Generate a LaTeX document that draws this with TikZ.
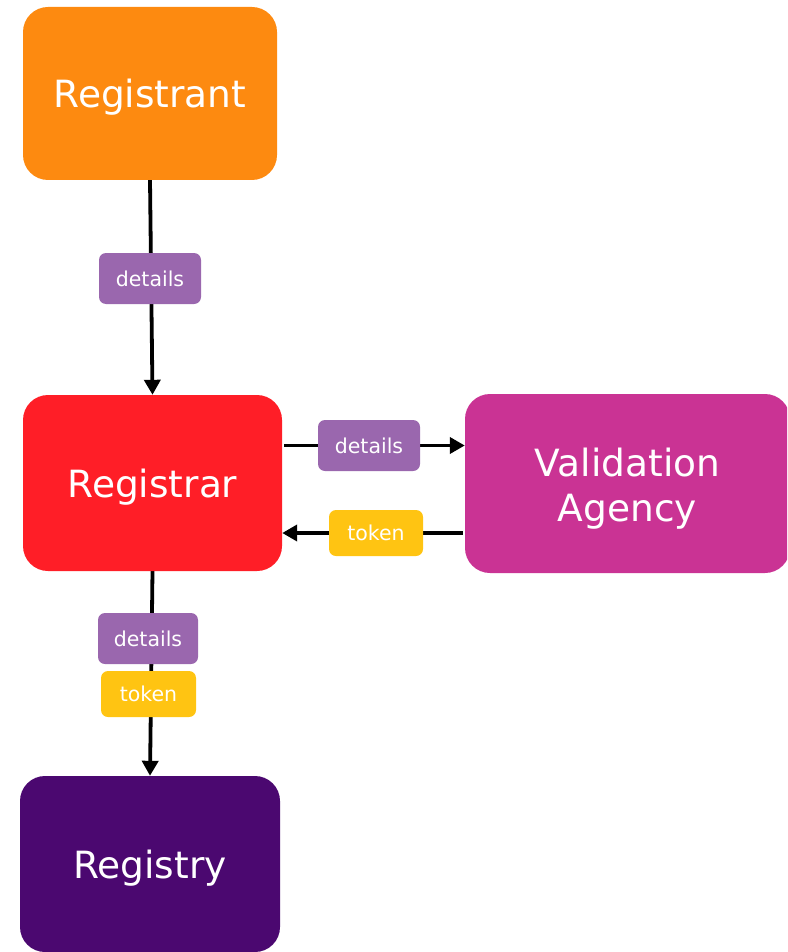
\documentclass[tikz,border=0pt]{standalone}
\usepackage{fontspec}
\setmainfont{DejaVu Sans}
\usetikzlibrary{arrows.meta}
\pgfdeclarelayer{bg}
\pgfsetlayers{bg,main}
\definecolor{cOrange}{HTML}{FD8A10}
\definecolor{cRed}{HTML}{FF1E27}
\definecolor{cMagenta}{HTML}{CA3394}
\definecolor{cDark}{HTML}{4B0870}
\definecolor{cLilac}{HTML}{9A67AE}
\definecolor{cYellow}{HTML}{FFC412}
\tikzset{
  bigbox/.style={rounded corners=25pt, text=white, font=\fontsize{37.5}{45}\selectfont, align=center, inner sep=0pt, text depth=0pt},
  tag/.style={rounded corners=7pt, text=white, font=\fontsize{20.5}{24}\selectfont, inner sep=0pt, minimum height=51pt},
  arr/.style={line width=3.8pt, -{Triangle[length=15pt,width=16pt]}}
}
\begin{document}
\begin{tikzpicture}[x=1pt,y=-1pt]
\useasboundingbox (0,0) rectangle (787,952);
\begin{scope}
\clip (0,0) rectangle (787,952);
\node[bigbox, fill=cOrange, minimum width=254pt, minimum height=173pt] (registrant) at (150,93.5) {Registrant};
\node[bigbox, fill=cRed, minimum width=259pt, minimum height=176pt] (registrar) at (152.5,483) {Registrar};
\node[bigbox, fill=cMagenta, minimum width=325pt, minimum height=179pt, text width=325pt, text depth={}, text height=38.5pt] (va) at (627.5,483.5) {Validation\\Agency};
\node[bigbox, fill=cDark, minimum width=260pt, minimum height=176pt] (registry) at (150,864) {Registry};

\node[tag, fill=cLilac, minimum width=102pt] (d1) at (150,278.5) {details};
\node[tag, fill=cLilac, minimum width=102pt] (d2) at (369,445.5) {details};
\node[tag, fill=cYellow, minimum width=94pt, minimum height=46pt] (t1) at (376,533) {token};
\node[tag, fill=cLilac, minimum width=100pt] (d3) at (148,638.5) {details};
\node[tag, fill=cYellow, minimum width=95pt, minimum height=46pt] (t2) at (148.5,694) {token};

\begin{pgfonlayer}{bg}
\draw[arr] (registrant.south) -- (registrar.north);
\draw[arr] ([xshift=2pt]registrar.east |- d2) -- (va.west |- d2);
\draw[arr] ([xshift=-2pt]va.west |- t1) -- (registrar.east |- t1);
\draw[arr] (registrar.south) -- (registry.north);
\end{pgfonlayer}
\end{scope}
\end{tikzpicture}
\end{document}
